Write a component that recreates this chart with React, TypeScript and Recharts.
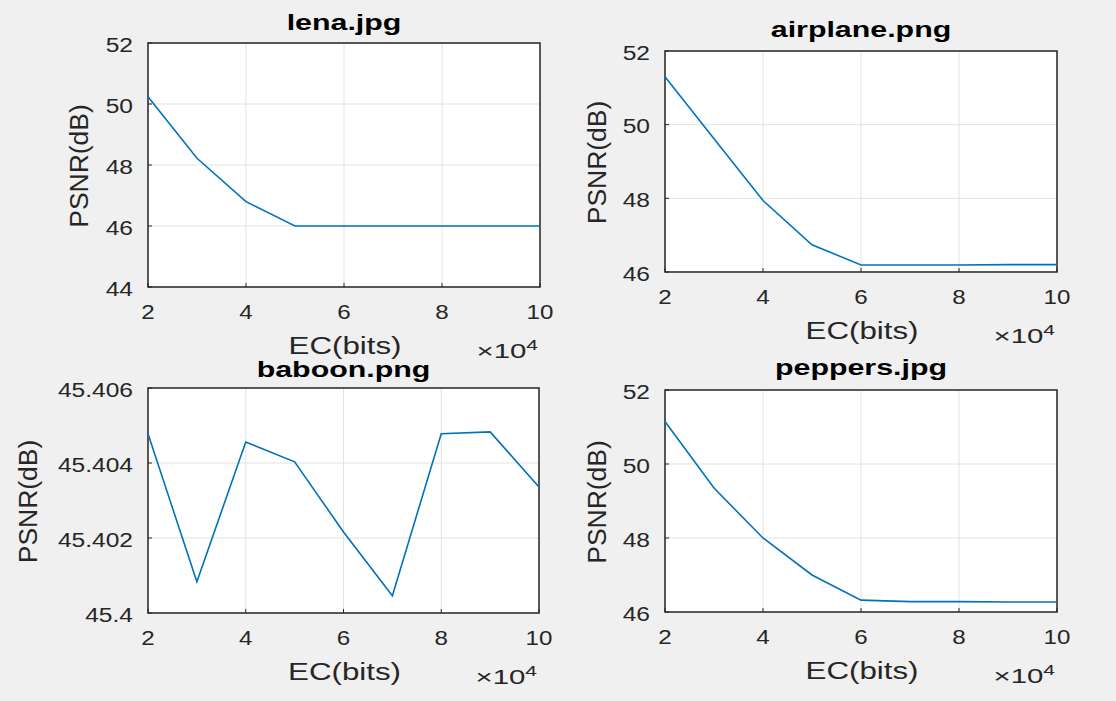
import React from 'react';
import { LineChart, Line, XAxis, YAxis, CartesianGrid, ReferenceArea } from 'recharts';

// EC in units of 10^4 bits
const ecBits = [2, 3, 4, 5, 6, 7, 8, 9, 10];

// PSNR (dB)
const lenaPsnr = [50.24, 48.22, 46.8, 46.0, 46.0, 46.0, 46.0, 46.0, 46.0];
const airplanePsnr = [51.3, 49.62, 47.94, 46.74, 46.19, 46.19, 46.19, 46.2, 46.2];
const baboonPsnr = [45.40478, 45.40083, 45.40456, 45.40403, 45.40216, 45.40046, 45.40478, 45.40483, 45.40336];
const peppersPsnr = [51.15, 49.35, 48.0, 47.0, 46.32, 46.28, 46.28, 46.27, 46.27];

const ecTicks = [2, 4, 6, 8, 10];
const lenaTicks = [44, 46, 48, 50, 52];
const psnrTicks = [46, 48, 50, 52];
const baboonTicks = [45.4, 45.402, 45.404, 45.406];

const FONT = '"Liberation Sans", Arial, Helvetica, sans-serif';
const INK = '#262626';
const LINE = '#0072BD';

const toRows = (ys: number[]) => ecBits.map((x, i) => ({ x, y: ys[i] }));

const XTick = (props: any) => {
  const { x, y, payload } = props;
  return (
    <text
      transform={`translate(${x},${y}) scale(1.15,1)`}
      textAnchor="middle"
      dy="0.71em"
      fontSize={21}
      fill={INK}
      fontFamily={FONT}
    >
      {payload.value}
    </text>
  );
};

const YTick = (props: any) => {
  const { x, y, payload } = props;
  return (
    <text
      transform={`translate(${x},${y}) scale(1.17,1)`}
      textAnchor="end"
      dy="0.42em"
      fontSize={21}
      fill={INK}
      fontFamily={FONT}
    >
      {payload.value}
    </text>
  );
};

type Panel = {
  title: string;
  values: number[];
  yTicks: number[];
  // plot box in page pixels
  box: { l: number; t: number; r: number; b: number };
  // chart svg placement
  area: { l: number; t: number; w: number; h: number };
  titleY: number;
  yLabelX: number;
};

const panels: Panel[] = [
  {
    title: 'lena.jpg', values: lenaPsnr, yTicks: lenaTicks,
    box: { l: 148, t: 43, r: 540, b: 287 }, area: { l: 0, t: 0, w: 558, h: 350 },
    titleY: 30, yLabelX: 88,
  },
  {
    title: 'airplane.png', values: airplanePsnr, yTicks: psnrTicks,
    box: { l: 665, t: 51, r: 1057, b: 272 }, area: { l: 558, t: 0, w: 558, h: 350 },
    titleY: 37, yLabelX: 606,
  },
  {
    title: 'baboon.png', values: baboonPsnr, yTicks: baboonTicks,
    box: { l: 148, t: 388, r: 539, b: 613 }, area: { l: 0, t: 350, w: 558, h: 351 },
    titleY: 377, yLabelX: 37,
  },
  {
    title: 'peppers.jpg', values: peppersPsnr, yTicks: psnrTicks,
    box: { l: 665, t: 390, r: 1057, b: 612 }, area: { l: 558, t: 350, w: 558, h: 351 },
    titleY: 375, yLabelX: 606,
  },
];

const SubPlot: React.FC<{ p: Panel }> = ({ p }) => {
  const { box, area, yTicks } = p;
  const yMin = yTicks[0];
  const yMax = yTicks[yTicks.length - 1];
  return (
    <div style={{ position: 'absolute', left: area.l, top: area.t }}>
      <LineChart
        width={area.w}
        height={area.h}
        data={toRows(p.values)}
        margin={{ top: box.t - area.t, right: area.l + area.w - box.r, left: 0, bottom: 0 }}
      >
        <CartesianGrid stroke="#e2e2e2" strokeWidth={1} fill="#ffffff" />
        {/* negative tickSize draws MATLAB-style ticks inside the box */}
        <XAxis
          dataKey="x"
          type="number"
          domain={[2, 10]}
          ticks={ecTicks}
          interval={0}
          height={area.t + area.h - box.b}
          axisLine={false}
          tickLine={{ stroke: INK, strokeWidth: 1 }}
          tickSize={-4}
          tickMargin={21}
          tick={<XTick />}
        />
        <YAxis
          type="number"
          domain={[yMin, yMax]}
          ticks={yTicks}
          interval={0}
          width={box.l - area.l}
          axisLine={false}
          tickLine={{ stroke: INK, strokeWidth: 1 }}
          tickSize={-4}
          tickMargin={19}
          tick={<YTick />}
        />
        <Line
          type="linear"
          dataKey="y"
          stroke={LINE}
          strokeWidth={1.6}
          dot={false}
          isAnimationActive={false}
        />
        <ReferenceArea
          x1={2}
          x2={10}
          y1={yMin}
          y2={yMax}
          fill="none"
          fillOpacity={0}
          stroke={INK}
          strokeWidth={1.5}
          ifOverflow="visible"
        />
      </LineChart>
    </div>
  );
};

export default function App() {
  return (
    <div
      style={{
        position: 'absolute',
        left: 0,
        top: 0,
        width: 1116,
        height: 701,
        background: '#f0f0f0',
        overflow: 'hidden',
        fontFamily: FONT,
      }}
    >
      {panels.map((p) => (
        <SubPlot key={p.title} p={p} />
      ))}
      <svg
        width={1116}
        height={701}
        style={{ position: 'absolute', left: 0, top: 0, pointerEvents: 'none' }}
        fontFamily={FONT}
      >
        {panels.map((p) => {
          const cx = (p.box.l + p.box.r) / 2;
          const cy = (p.box.t + p.box.b) / 2;
          return (
            <g key={p.title}>
              <text
                transform={`translate(${cx},${p.titleY}) scale(1.38,1)`}
                textAnchor="middle"
                fontSize={22}
                fontWeight="bold"
                fill="#000"
              >
                {p.title}
              </text>
              <text
                transform={`translate(${cx + 1},${p.box.b + 67}) scale(1.36,1)`}
                textAnchor="middle"
                fontSize={23}
                fill={INK}
              >
                EC(bits)
              </text>
              <text
                transform={`translate(${p.box.r - 2},${p.box.b + 70.5}) scale(1.4,1)`}
                textAnchor="end"
                fontSize={21}
                fill={INK}
              >
                ×10<tspan dy={-8} fontSize={15}>4</tspan>
              </text>
              <text
                transform={`translate(${p.yLabelX},${cy + 1}) rotate(-90) scale(1.15,1.1)`}
                textAnchor="middle"
                fontSize={23}
                fill={INK}
              >
                PSNR(dB)
              </text>
            </g>
          );
        })}
      </svg>
    </div>
  );
}
